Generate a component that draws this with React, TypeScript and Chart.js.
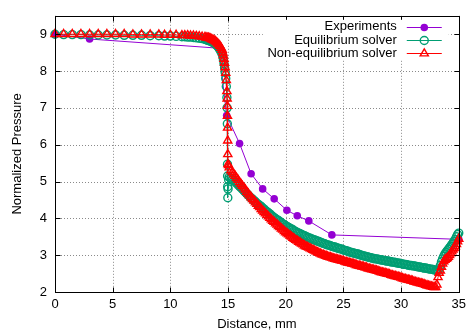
import React, { useEffect, useRef } from 'react';
import { Chart, registerables } from 'chart.js';

Chart.register(...registerables);

// ---- data ----
const seriesLabels = ['Experiments', 'Equilibrium solver', 'Non-equilibrium solver'];

const expDistance = [0, 3, 14.2, 14.88, 16, 17, 18, 19, 20.1, 21, 22, 24, 35];
const expPressure = [9.0, 8.87, 8.62, 6.79, 6.03, 5.21, 4.8, 4.53, 4.22, 4.07, 3.93, 3.55, 3.43];

const meshDistance = [
  0, 0.75, 1.5, 2.25, 3, 3.75, 4.5, 5.25, 6, 6.75, 7.5, 8.25, 9,
  9.5, 10, 10.5, 11,
  11.25, 11.5, 11.75, 12, 12.25, 12.5, 12.75, 13,
  13.1, 13.2, 13.3, 13.4, 13.5, 13.6, 13.7, 13.8, 13.9, 14.0, 14.1, 14.2, 14.3, 14.4, 14.5,
  14.55, 14.6, 14.65, 14.7, 14.75, 14.8, 14.85, 14.9,
  14.92, 14.94, 14.95, 14.96, 14.97, 14.98, 15.0, 15.05, 15.1,
  15.25, 15.375, 15.5, 15.625, 15.75, 15.875, 16, 16.125,
  16.25, 16.375, 16.5, 16.625, 16.75, 16.875, 17, 17.125,
  17.25, 17.375, 17.5, 17.625, 17.75, 17.875, 18, 18.125,
  18.25, 18.375, 18.5, 18.625, 18.75, 18.875, 19, 19.125,
  19.25, 19.375, 19.5, 19.625, 19.75, 19.875, 20, 20.125,
  20.25, 20.375, 20.5, 20.625, 20.75, 20.875, 21, 21.125,
  21.25, 21.375, 21.5, 21.625, 21.75, 21.875, 22, 22.125,
  22.25, 22.375, 22.5, 22.625, 22.75, 22.875, 23, 23.125,
  23.25, 23.375, 23.5, 23.625, 23.75, 23.875, 24, 24.125,
  24.25, 24.375, 24.5, 24.625, 24.75, 24.875, 25, 25.125,
  25.25, 25.375, 25.5, 25.625, 25.75, 25.875, 26, 26.125,
  26.25, 26.375, 26.5, 26.625, 26.75, 26.875, 27, 27.125,
  27.25, 27.375, 27.5, 27.625, 27.75, 27.875, 28, 28.125,
  28.25, 28.375, 28.5, 28.625, 28.75, 28.875, 29, 29.125,
  29.25, 29.375, 29.5, 29.625, 29.75, 29.875, 30, 30.125,
  30.25, 30.375, 30.5, 30.625, 30.75, 30.875, 31, 31.125,
  31.25, 31.375, 31.5, 31.625, 31.75, 31.875, 32, 32.125,
  32.25, 32.375, 32.5, 32.625, 32.75, 32.875, 33,
  33.1, 33.2, 33.3, 33.4, 33.5, 33.6, 33.7, 33.8, 33.9, 34, 34.1, 34.2, 34.3, 34.4, 34.5, 34.6,
  34.7, 34.8, 34.9, 35,
];

const eqPressure = [
  9.0, 8.99, 8.99, 8.99, 8.98, 8.98, 8.98, 8.98, 8.97, 8.97, 8.97, 8.96, 8.96,
  8.95, 8.95, 8.94, 8.93,
  8.93, 8.92, 8.92, 8.91, 8.9, 8.89, 8.88, 8.86,
  8.85, 8.84, 8.83, 8.82, 8.81, 8.79, 8.78, 8.76, 8.73, 8.7, 8.67, 8.63, 8.58, 8.52, 8.46,
  8.39, 8.3, 8.2, 8.09, 7.96, 7.8, 7.58, 7.28,
  7.0, 6.57, 5.47, 5.15, 4.86, 4.56, 4.8, 5.05, 5.12,
  5.08, 5.05, 5.02, 4.99, 4.95, 4.91, 4.87, 4.83,
  4.79, 4.75, 4.71, 4.67, 4.63, 4.59, 4.55, 4.52,
  4.48, 4.45, 4.41, 4.38, 4.35, 4.32, 4.28, 4.25,
  4.21, 4.18, 4.15, 4.12, 4.08, 4.05, 4.02, 3.99,
  3.96, 3.94, 3.91, 3.88, 3.85, 3.83, 3.8, 3.78,
  3.75, 3.73, 3.71, 3.69, 3.66, 3.64, 3.62, 3.6,
  3.58, 3.56, 3.54, 3.53, 3.51, 3.49, 3.47, 3.46,
  3.44, 3.43, 3.41, 3.4, 3.38, 3.37, 3.35, 3.34,
  3.32, 3.31, 3.29, 3.28, 3.27, 3.26, 3.24, 3.23,
  3.22, 3.21, 3.19, 3.18, 3.17, 3.16, 3.14, 3.13,
  3.12, 3.11, 3.09, 3.08, 3.07, 3.06, 3.05, 3.04,
  3.03, 3.02, 3.0, 2.99, 2.98, 2.97, 2.96, 2.95,
  2.94, 2.93, 2.92, 2.91, 2.9, 2.9, 2.89, 2.88,
  2.87, 2.87, 2.86, 2.85, 2.84, 2.84, 2.83, 2.82,
  2.81, 2.81, 2.8, 2.79, 2.78, 2.78, 2.77, 2.76,
  2.75, 2.75, 2.74, 2.73, 2.72, 2.72, 2.71, 2.71,
  2.7, 2.69, 2.68, 2.68, 2.67, 2.66, 2.65, 2.65,
  2.64, 2.63, 2.62, 2.62, 2.61, 2.6, 2.59,
  2.58, 2.58, 2.63, 2.72, 2.82, 2.9, 2.97, 3.03, 3.08, 3.12, 3.16, 3.2, 3.24, 3.29, 3.33, 3.38,
  3.43, 3.5, 3.56, 3.6,
];

const neqPressure = [
  9.0, 9.0, 9.0, 9.0, 9.0, 9.0, 9.0, 9.0, 9.0, 8.99, 8.99, 8.99, 8.99,
  8.98, 8.98, 8.98, 8.97,
  8.97, 8.97, 8.96, 8.96, 8.95, 8.94, 8.93, 8.92,
  8.91, 8.9, 8.9, 8.89, 8.88, 8.86, 8.85, 8.83, 8.81, 8.78, 8.75, 8.72, 8.68, 8.63, 8.57,
  8.5, 8.42, 8.33, 8.22, 8.1, 7.95, 7.75, 7.45,
  7.25, 7.05, 6.78, 6.46, 6.11, 5.74, 5.47, 5.44, 5.38,
  5.3, 5.25, 5.2, 5.15, 5.09, 5.04, 4.98, 4.93,
  4.88, 4.83, 4.78, 4.72, 4.67, 4.62, 4.57, 4.52,
  4.48, 4.43, 4.39, 4.34, 4.3, 4.25, 4.21, 4.17,
  4.13, 4.09, 4.05, 4.01, 3.97, 3.93, 3.9, 3.86,
  3.83, 3.79, 3.76, 3.72, 3.69, 3.65, 3.62, 3.59,
  3.56, 3.53, 3.5, 3.47, 3.44, 3.41, 3.39, 3.36,
  3.34, 3.31, 3.29, 3.26, 3.24, 3.22, 3.2, 3.18,
  3.16, 3.14, 3.12, 3.1, 3.08, 3.06, 3.04, 3.02,
  3.01, 2.99, 2.98, 2.96, 2.95, 2.94, 2.93, 2.91,
  2.9, 2.89, 2.88, 2.87, 2.86, 2.85, 2.84, 2.82,
  2.81, 2.8, 2.79, 2.78, 2.77, 2.76, 2.75, 2.73,
  2.72, 2.71, 2.7, 2.69, 2.68, 2.67, 2.66, 2.64,
  2.63, 2.62, 2.61, 2.6, 2.59, 2.58, 2.57, 2.55,
  2.54, 2.53, 2.52, 2.51, 2.5, 2.49, 2.48, 2.46,
  2.45, 2.44, 2.43, 2.42, 2.41, 2.4, 2.39, 2.37,
  2.36, 2.35, 2.34, 2.33, 2.32, 2.31, 2.3, 2.28,
  2.27, 2.26, 2.25, 2.24, 2.23, 2.22, 2.21, 2.19,
  2.18, 2.17, 2.16, 2.15, 2.14, 2.13, 2.13,
  2.2, 2.4, 2.52, 2.58, 2.68, 2.77, 2.83, 2.87, 2.9, 2.92, 2.95, 3.0, 3.05, 3.1, 3.15, 3.19,
  3.24, 3.3, 3.37, 3.44,
];

const xMin = 0;
const xMax = 35;
const xStep = 5;
const yMin = 2;
const yMax = 9.5;
const yStep = 1;

const COLORS = ['#9400D3', '#009E73', '#FF0000'];
const FONT_FAMILY = '"Liberation Sans", Arial, Helvetica, sans-serif';
const MARK_R = [3.8, 4, 4.7];
const MARK_W = 1.4;

function drawMarker(ctx: CanvasRenderingContext2D, i: number, x: number, y: number) {
  ctx.save();
  ctx.lineWidth = MARK_W;
  ctx.strokeStyle = COLORS[i];
  ctx.fillStyle = COLORS[i];
  ctx.setLineDash([]);
  const r = MARK_R[i];
  if (i === 0) {
    ctx.beginPath();
    ctx.arc(x, y, r, 0, Math.PI * 2);
    ctx.fill();
  } else if (i === 1) {
    ctx.beginPath();
    ctx.arc(x, y, r, 0, Math.PI * 2);
    ctx.stroke();
  } else {
    ctx.beginPath();
    ctx.moveTo(x, y - r);
    ctx.lineTo(x + r * Math.sin((2 * Math.PI) / 3), y - r * Math.cos((2 * Math.PI) / 3));
    ctx.lineTo(x + r * Math.sin((4 * Math.PI) / 3), y - r * Math.cos((4 * Math.PI) / 3));
    ctx.closePath();
    ctx.stroke();
  }
  ctx.restore();
}

const framePlugin = {
  id: 'gnuFrame',
  beforeDatasetsDraw(chart: any) {
    const { ctx, chartArea } = chart;
    const xs = chart.scales.x;
    const ys = chart.scales.y;
    ctx.save();
    ctx.strokeStyle = '#8a8a8a';
    ctx.lineWidth = 1;
    ctx.setLineDash([1, 2]);
    xs.ticks.forEach((t: any) => {
      const px = Math.round(xs.getPixelForValue(t.value)) + 0.5;
      ctx.beginPath();
      ctx.moveTo(px, chartArea.top);
      ctx.lineTo(px, chartArea.bottom);
      ctx.stroke();
    });
    ys.ticks.forEach((t: any) => {
      const py = Math.round(ys.getPixelForValue(t.value)) + 0.5;
      ctx.beginPath();
      ctx.moveTo(chartArea.left, py);
      ctx.lineTo(chartArea.right, py);
      ctx.stroke();
    });
    ctx.restore();
  },
  afterDatasetsDraw(chart: any) {
    const { ctx, chartArea } = chart;
    const xs = chart.scales.x;
    const ys = chart.scales.y;
    const L = Math.round(chartArea.left) + 0.5;
    const R = Math.round(chartArea.right) + 0.5;
    const T = Math.round(chartArea.top) + 0.5;
    const B = Math.round(chartArea.bottom) + 0.5;
    ctx.save();
    ctx.setLineDash([]);
    ctx.strokeStyle = '#000';
    ctx.lineWidth = 1;
    const tl = 5;
    xs.ticks.forEach((t: any) => {
      const px = Math.round(xs.getPixelForValue(t.value)) + 0.5;
      ctx.beginPath();
      ctx.moveTo(px, B);
      ctx.lineTo(px, B - tl);
      ctx.moveTo(px, T);
      ctx.lineTo(px, T + tl);
      ctx.stroke();
    });
    ys.ticks.forEach((t: any) => {
      const py = Math.round(ys.getPixelForValue(t.value)) + 0.5;
      ctx.beginPath();
      ctx.moveTo(L, py);
      ctx.lineTo(L + tl, py);
      ctx.moveTo(R, py);
      ctx.lineTo(R - tl, py);
      ctx.stroke();
    });
    ctx.strokeRect(L, T, R - L, B - T);

    // key box (top right, inside plot)
    const boxRight = chartArea.right - 10;
    const boxLeft = chartArea.right - 196;
    const boxTop = chartArea.top + 4;
    ctx.fillStyle = '#fff';
    ctx.fillRect(boxLeft, boxTop, boxRight - boxLeft, 40);
    chart.data.datasets.forEach((ds: any, i: number) => {
      const y = chartArea.top + 11 + i * 13.2;
      ctx.fillStyle = '#000';
      ctx.font = '13px ' + FONT_FAMILY;
      ctx.textAlign = 'right';
      ctx.textBaseline = 'middle';
      ctx.fillText(ds.label, chartArea.right - 62, y);
      ctx.strokeStyle = COLORS[i];
      ctx.lineWidth = 1;
      ctx.beginPath();
      ctx.moveTo(chartArea.right - 52, Math.round(y) + 0.5);
      ctx.lineTo(chartArea.right - 17, Math.round(y) + 0.5);
      ctx.stroke();
      drawMarker(ctx, i, chartArea.right - 34.5, Math.round(y) + 0.5);
    });
    ctx.restore();
  },
};

export default function App() {
  const canvasRef = useRef<HTMLCanvasElement | null>(null);

  useEffect(() => {
    if (!canvasRef.current) return;
    const expData = expDistance.map((x, i) => ({ x, y: expPressure[i] }));
    const eqData = meshDistance.map((x, i) => ({ x, y: eqPressure[i] }));
    const neqData = meshDistance.map((x, i) => ({ x, y: neqPressure[i] }));

    const chart = new Chart(canvasRef.current, {
      type: 'scatter',
      data: {
        datasets: [
          {
            label: seriesLabels[0],
            data: expData,
            showLine: true,
            borderColor: COLORS[0],
            backgroundColor: COLORS[0],
            borderWidth: 1,
            pointRadius: MARK_R[0],
            pointBorderWidth: 0,
            pointBackgroundColor: COLORS[0],
            pointStyle: 'circle',
            clip: false,
            order: 3,
          },
          {
            label: seriesLabels[1],
            data: eqData,
            showLine: true,
            borderColor: COLORS[1],
            backgroundColor: 'rgba(0,0,0,0)',
            borderWidth: 1,
            pointRadius: MARK_R[1],
            pointBorderWidth: MARK_W,
            pointBorderColor: COLORS[1],
            pointBackgroundColor: 'rgba(0,0,0,0)',
            pointStyle: 'circle',
            clip: false,
            order: 2,
          },
          {
            label: seriesLabels[2],
            data: neqData,
            showLine: true,
            borderColor: COLORS[2],
            backgroundColor: 'rgba(0,0,0,0)',
            borderWidth: 1,
            pointRadius: MARK_R[2],
            pointBorderWidth: MARK_W,
            pointBorderColor: COLORS[2],
            pointBackgroundColor: 'rgba(0,0,0,0)',
            pointStyle: 'triangle',
            clip: false,
            order: 1,
          },
        ],
      },
      options: {
        animation: false,
        responsive: false,
        devicePixelRatio: 1,
        layout: { padding: { top: 12, right: 9, left: 0, bottom: 0 } },
        plugins: {
          legend: { display: false },
          tooltip: { enabled: false },
        },
        elements: { line: { tension: 0 } },
        scales: {
          x: {
            type: 'linear',
            min: xMin,
            max: xMax,
            grid: { display: false, drawTicks: false },
            border: { display: false },
            ticks: {
              stepSize: xStep,
              padding: 5,
              color: '#000',
              font: { family: FONT_FAMILY, size: 13 },
              maxRotation: 0,
              autoSkip: false,
            },
            title: {
              display: true,
              text: 'Distance, mm',
              color: '#000',
              font: { family: FONT_FAMILY, size: 13 },
              padding: { top: 0, bottom: -2 },
            },
            afterFit: (scale: any) => {
              scale.height = 38;
            },
          },
          y: {
            type: 'linear',
            min: yMin,
            max: yMax,
            grid: { display: false, drawTicks: false },
            border: { display: false },
            ticks: {
              stepSize: yStep,
              includeBounds: false,
              padding: 8,
              color: '#000',
              font: { family: FONT_FAMILY, size: 13 },
            },
            title: {
              display: true,
              text: 'Normalized Pressure',
              color: '#000',
              font: { family: FONT_FAMILY, size: 13 },
              padding: { top: 10, bottom: 0 },
            },
            afterFit: (scale: any) => {
              scale.width = 55;
            },
          },
        },
      },
      plugins: [framePlugin],
    });
    return () => chart.destroy();
  }, []);

  return (
    <div style={{ position: 'absolute', left: 0, top: 0, width: 471, height: 330, background: '#fff' }}>
      <canvas ref={canvasRef} width={471} height={330} style={{ display: 'block' }} />
    </div>
  );
}
